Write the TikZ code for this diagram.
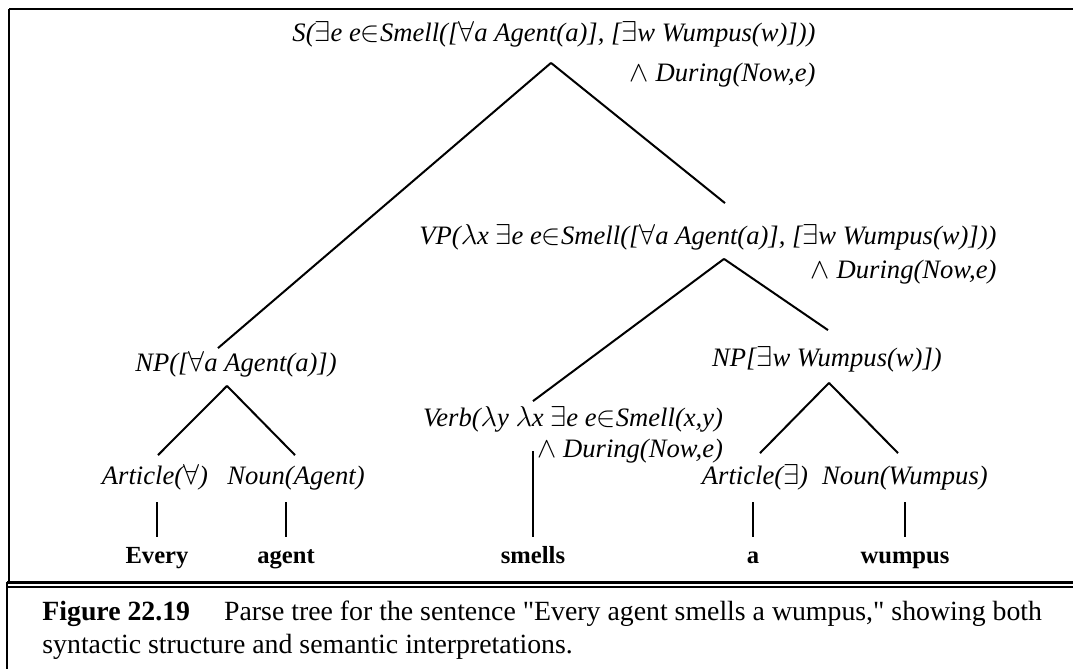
\documentclass[tikz,border=0pt]{standalone}
\usepackage{fontspec}
\setmainfont{Liberation Serif}
\usetikzlibrary{positioning, calc}
\newcommand{\Qall}{\ensuremath{\forall}}
\newcommand{\Qex}{\ensuremath{\exists}}
\newcommand{\Mem}{\ensuremath{\in}}
\newcommand{\Lam}{\ensuremath{\lambda}}
\newcommand{\Conj}{\ensuremath{\wedge}}

\begin{document}
\begin{tikzpicture}[
    x=0.5pt, y=-0.5pt,
    sem/.style={font=\fontsize{13.3}{16}\selectfont\itshape, inner sep=0pt,
                text height=9.5pt, text depth=3pt},
    word/.style={font=\fontsize{12.3}{15}\selectfont\bfseries, inner sep=0pt,
                 text height=9.5pt, text depth=3pt},
    capt/.style={font=\fontsize{13.9}{16.5}\selectfont, inner sep=0pt,
                 anchor=base west},
    br/.style={line width=1pt},
  ]
  \useasboundingbox (0,0) rectangle (1073,669);

  % frame
  \draw[line width=1pt] (9,9) -- (1073,9);
  \draw[line width=1pt] (9,9) -- (9,584);
  \draw[line width=1.2pt] (7,582.5) -- (1073,582.5);
  \draw[line width=0.6pt] (7,587) -- (1073,587);
  \draw[line width=0.6pt] (7,582) -- (7,669);

  % tree
  \node[sem] (S) at (554,35)
    {S(\Qex e e\Mem Smell([\Qall a Agent(a)], [\Qex w Wumpus(w)]))};
  \node[sem, anchor=east] (S2) at ($(S.east)+(0,40)$) {\Conj\ During(Now,e)};

  \node[sem] (VP) at (708,238)
    {VP(\Lam x \Qex e e\Mem Smell([\Qall a Agent(a)], [\Qex w Wumpus(w)]))};
  \node[sem, anchor=east] (VP2) at ($(VP.east)+(0,34)$) {\Conj\ During(Now,e)};

  \node[sem] (NPa) at (236,365) {NP([\Qall a Agent(a)])};
  \node[sem] (NPw) at (827,360) {NP[\Qex w Wumpus(w)])};

  \node[sem] (Verb) at (573,420) {Verb(\Lam y \Lam x \Qex e e\Mem Smell(x,y)};
  \node[sem, anchor=east] (Verb2) at ($(Verb.east)+(0,31)$) {\Conj\ During(Now,e)};

  \node[sem] (ArtA) at (155,478) {Article(\Qall)};
  \node[sem] (NounA) at (296,478) {Noun(Agent)};
  \node[sem] (ArtE) at (755,478) {Article(\Qex)};
  \node[sem] (NounW) at (905,478) {Noun(Wumpus)};

  \node[word] (every) at (157,557) {Every};
  \node[word] (agent) at (286,557) {agent};
  \node[word] (smells) at (533,557) {smells};
  \node[word] (art) at (753,557) {a};
  \node[word] (wumpus) at (905,557) {wumpus};

  \draw[br] ($(S.south)+(-3,15)$) -- ($(NPa.north)+(-18,-4)$);
  \draw[br] ($(S.south)+(-3,15)$) -- ($(VP.north)+(17,-22)$);
  \draw[br] ($(VP.south)+(16,8)$) -- ($(Verb.north)+(-40,-6)$);
  \draw[br] ($(VP.south)+(16,8)$) -- ($(NPw.north)+(1,-17)$);
  \draw[br] ($(NPa.south)+(-9,8)$) -- ($(ArtA.north)+(3,-10)$);
  \draw[br] ($(NPa.south)+(-9,8)$) -- ($(NounA.north)+(-1,-10)$);
  \draw[br] ($(NPw.south)+(2,10)$) -- ($(ArtE.north)+(5,-12)$);
  \draw[br] ($(NPw.south)+(2,10)$) -- ($(NounW.north)+(-7,-12)$);

  \draw[br, shorten <=3.75pt, shorten >=5.75pt] (every.north) -- (every.north |- ArtA.south);
  \draw[br, shorten <=3.75pt, shorten >=5.75pt] (agent.north) -- (agent.north |- NounA.south);
  \draw[br, shorten <=3.75pt, shorten >=5.75pt] (art.north) -- (art.north |- ArtE.south);
  \draw[br, shorten <=3.75pt, shorten >=5.75pt] (wumpus.north) -- (wumpus.north |- NounW.south);
  \draw[br, shorten <=3.75pt] (smells.north) -- (smells.north |- Verb2.west);

  % caption
  \node[capt] (cap1) at (42,620)
    {\textbf{Figure 22.19}\hspace{17pt}Parse tree for the sentence \textquotedbl Every agent smells a wumpus,\textquotedbl{} showing both};
  \node[capt] (cap2) at (42,653) {syntactic structure and semantic interpretations.};
\end{tikzpicture}
\end{document}
